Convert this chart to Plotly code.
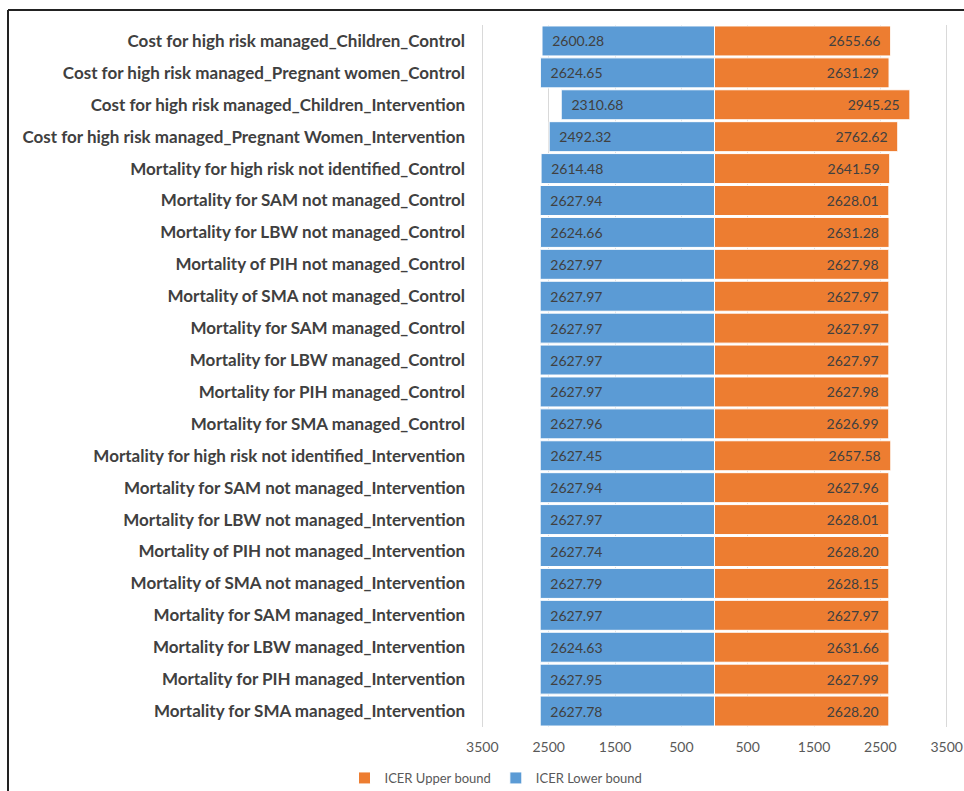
import plotly.graph_objects as go

categories = [
    "Cost for high risk managed_Children_Control",
    "Cost for high risk managed_Pregnant women_Control",
    "Cost for high risk managed_Children_Intervention",
    "Cost for high risk managed_Pregnant Women_Intervention",
    "Mortality for high risk not identified_Control",
    "Mortality for SAM not managed_Control",
    "Mortality for LBW not managed_Control",
    "Mortality of PIH not managed_Control",
    "Mortality of SMA not managed_Control",
    "Mortality for SAM managed_Control",
    "Mortality for LBW managed_Control",
    "Mortality for PIH managed_Control",
    "Mortality for SMA managed_Control",
    "Mortality for high risk not identified_Intervention",
    "Mortality for SAM not managed_Intervention",
    "Mortality for LBW not managed_Intervention",
    "Mortality of PIH not managed_Intervention",
    "Mortality of SMA not managed_Intervention",
    "Mortality for SAM managed_Intervention",
    "Mortality for LBW managed_Intervention",
    "Mortality for PIH managed_Intervention",
    "Mortality for SMA managed_Intervention",
]

icer_lower = [2600.28, 2624.65, 2310.68, 2492.32, 2614.48, 2627.94, 2624.66, 2627.97,
              2627.97, 2627.97, 2627.97, 2627.97, 2627.96, 2627.45, 2627.94, 2627.97,
              2627.74, 2627.79, 2627.97, 2624.63, 2627.95, 2627.78]
icer_upper = [2655.66, 2631.29, 2945.25, 2762.62, 2641.59, 2628.01, 2631.28, 2627.98,
              2627.97, 2627.97, 2627.97, 2627.98, 2626.99, 2657.58, 2627.96, 2628.01,
              2628.20, 2628.15, 2627.97, 2631.66, 2627.99, 2628.20]

tick_values = [-3500, -2500, -1500, -500, 500, 1500, 2500, 3500]
tick_labels = ["3500", "2500", "1500", "500", "500", "1500", "2500", "3500"]

BLUE = "#5B9BD5"
ORANGE = "#ED7D31"
NB = "\u00a0"

fig = go.Figure()
fig.add_trace(go.Bar(
    y=categories, x=icer_upper, orientation="h", name="ICER Upper bound",
    marker=dict(color=ORANGE, line=dict(color="white", width=1)),
    text=[f"{v:.2f}{NB*2}" for v in icer_upper],
    textposition="inside", insidetextanchor="end",
    textfont=dict(family="Lato", size=14, color="#404040"),
    hoverinfo="skip",
))
fig.add_trace(go.Bar(
    y=categories, x=[-v for v in icer_lower], orientation="h", name="ICER Lower bound",
    marker=dict(color=BLUE, line=dict(color="white", width=1)),
    text=[f"{NB*2}{v:.2f}" for v in icer_lower],
    textposition="inside", insidetextanchor="end",
    textfont=dict(family="Lato", size=14, color="#404040"),
    hoverinfo="skip",
))

W, H = 964, 791
L, R, T, B = 481, 16, 25, 64
pw, ph = W - L - R, H - T - B

def px_x(p):
    return (p - L) / pw

def px_y(p):
    return (H - B - p) / ph

fig.update_layout(
    width=W, height=H,
    margin=dict(l=L, r=R, t=T, b=B, autoexpand=False),
    paper_bgcolor="white", plot_bgcolor="white",
    barmode="relative", bargap=0.06,
    showlegend=True,
    legend=dict(orientation="h", x=px_x(496), xanchor="center", y=px_y(778), yanchor="middle",
                font=dict(family="Lato", size=13, color="#595959"), traceorder="normal",
                itemwidth=30),
    xaxis=dict(range=[-3520, 3520], tickvals=tick_values, ticktext=tick_labels,
               showgrid=True, gridcolor="#D9D9D9", gridwidth=1, zeroline=False,
               tickfont=dict(family="Lato", size=14, color="#595959"), ticks="",
               ticklabelstandoff=10, automargin=False, fixedrange=True),
    yaxis=dict(autorange="reversed", showgrid=False, ticks="", ticklabelstandoff=15,
               tickfont=dict(family="Lato", size=17, color="#404040", weight="bold"),
               automargin=False, fixedrange=True),
    shapes=[
        dict(type="line", xref="paper", yref="paper", x0=px_x(8), x1=px_x(964), y0=px_y(10), y1=px_y(10),
             line=dict(color="#222222", width=2)),
        dict(type="line", xref="paper", yref="paper", x0=px_x(8), x1=px_x(8), y0=px_y(10), y1=px_y(791),
             line=dict(color="#222222", width=2)),
    ],
)

fig.write_html("out.html")
